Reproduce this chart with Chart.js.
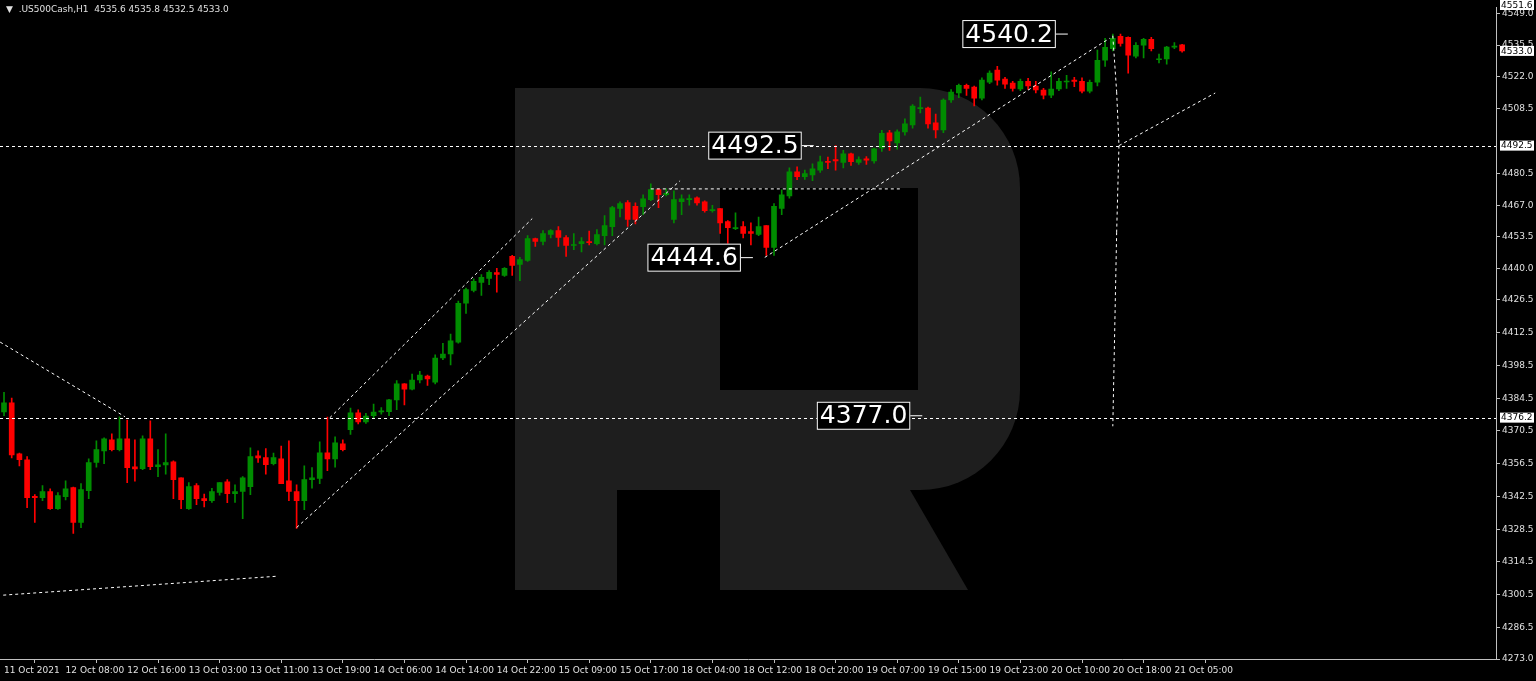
<!DOCTYPE html>
<html>
<head>
<meta charset="utf-8">
<script src="https://cdn.jsdelivr.net/npm/chart.js@4/dist/chart.umd.min.js"></script>
<style>
  html, body { margin: 0; padding: 0; background: #000; }
  #wrap { width: 1536px; height: 681px; }
</style>
</head>
<body>
<div id="wrap"><canvas id="chart" width="1536" height="681"></canvas></div>
<script>
// hourly candles, US500Cash H1
let opens = [4378.6,4382.5,4360.7,4358.2,4342.6,4342.0,4344.6,4337.3,4342.4,4346.3,4331.4,4345,4357,4362,4366.7,4362.5,4367.1,4355.2,4354.4,4367.1,4355.2,4356,4357.3,4350.5,4337.3,4347.1,4341.6,4340.7,4344.2,4348.8,4343.7,4344.6,4346.7,4359.9,4359.1,4356.5,4358.6,4349.2,4344.6,4340.7,4349.7,4350.2,4361.2,4358.6,4365,4371,4378.2,4374.4,4377,4378.6,4378.8,4383.8,4390.6,4388.4,4392.3,4394,4391.4,4401.7,4403.4,4408.5,4425.1,4430.6,4434,4435.7,4438.2,4437,4445.2,4441.7,4443.4,4452.8,4451.5,4454.5,4456.2,4453.2,4449.8,4450.6,4451.5,4450.6,4454,4457.9,4465.6,4468.1,4466.5,4466.4,4469.4,4473.7,4471.5,4460.9,4468.5,4469.4,4470.2,4468.5,4464.7,4465.6,4460,4457,4457.9,4455.7,4454.5,4458.3,4449,4465.6,4471,4481.3,4479.2,4480,4482,4485.8,4486.5,4485.3,4489,4485.3,4486.9,4486,4491.5,4498,4493.7,4498.4,4501.3,4508.3,4508.5,4502.2,4499.2,4512,4515,4518.3,4517.5,4512.8,4519.6,4524.8,4520.9,4519.2,4516.7,4520,4518,4516.2,4514.1,4516.7,4519.7,4520.5,4520,4515.8,4519.6,4529,4534,4539.2,4538.8,4530.7,4535.4,4538,4529.2,4529.6,4534.6,4535.6];
let highs = [4387,4384.6,4361,4359.5,4343.3,4347.1,4345.8,4344.2,4349.2,4346.5,4348,4358.6,4366.3,4367.6,4369.3,4376.5,4375.2,4366.7,4368.4,4374.8,4362.5,4369.3,4357.7,4350.5,4348.4,4348,4343.5,4346,4348.4,4349.7,4347.5,4351,4363.3,4362,4363,4361,4364,4366.3,4347.5,4355.6,4354.8,4365.9,4376.4,4368,4366.7,4380.3,4379.5,4378,4382,4380.5,4384,4392,4390.8,4394.8,4396,4394.4,4403,4408,4411.9,4426,4431.6,4435.5,4437.4,4439.1,4440,4440.4,4445.6,4444.7,4454,4453,4456.2,4456.6,4457.9,4454,4454.9,4453.2,4456,4456.6,4462.6,4466.5,4468.5,4469,4468,4471.5,4476.2,4474,4474,4473.2,4471.5,4471.5,4470.6,4468.9,4467,4465.6,4460.4,4463.8,4460,4459.5,4462,4458.3,4467.7,4473.6,4483,4483.4,4482,4484.7,4488,4487.6,4492.5,4490.5,4489.3,4487.7,4487.8,4491.5,4499,4499,4499.3,4504,4510,4513.3,4509,4506,4512.5,4516.5,4518.8,4518.8,4518,4521.5,4524.5,4526.4,4521.7,4520,4521,4521.3,4520,4517,4524,4521.3,4522.6,4521.7,4521.5,4520.5,4533.3,4538.4,4540.2,4540.2,4539,4536.6,4538.4,4538.8,4531.6,4535,4536.6,4535.8];
let lows = [4377,4359,4355.6,4337.7,4331.4,4340.7,4337,4337,4341,4326.7,4329.2,4341.6,4355,4356.5,4362,4362,4348.4,4349,4354,4354,4351,4352,4341.6,4337.3,4337,4339,4338,4340,4343,4339.8,4340,4333,4343.3,4357,4352,4356,4348,4340.7,4328.8,4336.9,4346,4348,4353.5,4355,4362,4369,4373.5,4373.7,4376,4377.7,4377,4379.6,4381.6,4388,4391,4390,4390.6,4401,4398.7,4408,4420.8,4430,4428.5,4433,4429.8,4436.6,4437,4434.8,4443,4449.4,4450,4453,4449.4,4445.1,4448,4447,4450,4450,4450,4454,4462,4458,4459,4463,4469,4466,4471,4459.5,4463,4467,4467,4464,4464,4455,4449.8,4456.6,4453,4450,4454,4445.6,4445.6,4463,4470,4477.9,4478,4477.5,4481,4482.6,4482,4483,4484,4484.5,4484.5,4485,4490,4490.5,4491,4497,4500,4506.5,4500,4495.8,4498,4511,4513,4514,4509.5,4512,4519,4518.3,4517,4515.8,4516,4516.5,4515,4512.5,4513,4516,4517,4517.7,4515,4515,4518,4526.4,4533,4535,4523.5,4530,4530,4533,4527.9,4527.3,4534,4532.5];
let closes = [4382.5,4360.3,4358.2,4342.0,4342.0,4344.6,4337.3,4342.9,4345.8,4331.4,4345.4,4357,4362.5,4367.1,4362.5,4367.1,4354.8,4354.3,4367.1,4355.2,4356,4357,4349.7,4341.1,4346.7,4341.6,4340.7,4344.6,4348.4,4343.7,4344.6,4350.5,4359.5,4359,4356.1,4359.1,4348,4344.6,4340.7,4349.7,4350.5,4361.2,4358.6,4365.4,4362.5,4378.2,4374.4,4376.9,4378.6,4379.1,4383.8,4390.6,4388.4,4392.3,4394.4,4392.7,4401.7,4403.4,4409,4425.1,4431,4434.5,4436.2,4438.3,4437.4,4440,4441.3,4443.8,4452.8,4451.5,4454.9,4456.2,4453.2,4449.8,4450.2,4451.5,4451,4454.5,4458.3,4466,4467.7,4460.9,4461,4469.8,4473.7,4471.5,4472.1,4469.4,4469.8,4469.8,4468,4464.7,4465.2,4459.5,4457.4,4457.4,4455,4455,4457.9,4449,4466.5,4471.5,4481.3,4479.2,4480.5,4482.6,4485.6,4485.3,4486,4489,4485.6,4486.5,4486.3,4491.1,4497.8,4494.5,4498.4,4501.8,4509.4,4508.7,4501.8,4499.2,4512,4515.4,4518.3,4517,4512.8,4520.5,4523.5,4520.5,4518.8,4517,4520,4518,4516.3,4514.1,4516.7,4520,4520,4520,4515.8,4519.6,4529,4534.5,4538.4,4536.2,4531.2,4535.4,4537.9,4534,4529.6,4534.6,4535,4533.0];

let priceTicks = [4273.0,4286.5,4300.5,4314.5,4328.5,4342.5,4356.5,4370.5,4384.5,4398.5,4412.5,4426.5,4440.0,4453.5,4467.0,4480.5,4508.5,4522.0,4535.5,4549.0];
let timeLabels = ["11 Oct 2021","12 Oct 08:00","12 Oct 16:00","13 Oct 03:00","13 Oct 11:00","13 Oct 19:00","14 Oct 06:00","14 Oct 14:00","14 Oct 22:00","15 Oct 09:00","15 Oct 17:00","18 Oct 04:00","18 Oct 12:00","18 Oct 20:00","19 Oct 07:00","19 Oct 15:00","19 Oct 23:00","20 Oct 10:00","20 Oct 18:00","21 Oct 05:00"];
let labelStep = 8;

// markup: [i1, p1, i2, p2]
let trendLines = [
  [-0.5, 4408.5, 15.7, 4376.6],
  [-0.1, 4300.3, 35.5, 4308.4],
  [42.3, 4376.1, 68.6, 4461.3],
  [38.0, 4329.2, 87.8, 4477.5],
  [84.0, 4474.0, 116.5, 4474.0],
  [98.8, 4444.7, 143.6, 4538.4],
  [144.0, 4539.5, 144.5, 4515.5],
  [144.5, 4515.5, 144.8, 4492.5],
  [144.8, 4492.5, 144.5, 4455.5],
  [144.5, 4455.5, 144.0, 4372.5],
  [144.8, 4492.5, 157.3, 4515.0]
];
let levelLines = [4492.5, 4376.2];
let levelBoxes = [[136.6, 4540.2], [103.6, 4492.5], [95.7, 4444.6], [117.7, 4377.0]];

const green = '#008c00', red = '#ff0000';
const candleColor = (c) => closes[c.dataIndex] >= opens[c.dataIndex] ? green : red;
const idx = opens.map((_, i) => i);

const decor = {
  id: 'decor',
  beforeDatasetsDraw(chart) {
    const ctx = chart.ctx;
    ctx.save();
    ctx.fillStyle = '#1e1e1e';
    ctx.fillRect(515, 88, 102, 502);
    ctx.beginPath();
    ctx.moveTo(617, 88); ctx.lineTo(920, 88);
    ctx.arcTo(1020, 88, 1020, 188, 100);
    ctx.lineTo(1020, 390);
    ctx.arcTo(1020, 490, 920, 490, 100);
    ctx.lineTo(617, 490); ctx.closePath(); ctx.fill();
    ctx.fillStyle = '#000';
    ctx.fillRect(720, 188, 198, 202);
    ctx.fillStyle = '#1e1e1e';
    ctx.beginPath();
    ctx.moveTo(720, 490); ctx.lineTo(910, 490); ctx.lineTo(968, 590); ctx.lineTo(720, 590);
    ctx.closePath(); ctx.fill();
    ctx.restore();
  },
  afterDatasetsDraw(chart) {
    const ctx = chart.ctx, xs = chart.scales.x, ys = chart.scales.y, a = chart.chartArea;
    ctx.save();
    ctx.strokeStyle = '#ffffff';
    ctx.lineWidth = 1;
    ctx.setLineDash([3, 3]);
    levelLines.forEach(p => {
      const y = Math.round(ys.getPixelForValue(p)) + 0.5;
      ctx.beginPath(); ctx.moveTo(a.left, y); ctx.lineTo(a.right, y); ctx.stroke();
    });
    trendLines.forEach(l => {
      ctx.beginPath();
      ctx.moveTo(xs.getPixelForValue(l[0]), ys.getPixelForValue(l[1]));
      ctx.lineTo(xs.getPixelForValue(l[2]), ys.getPixelForValue(l[3]));
      ctx.stroke();
    });
    ctx.setLineDash([]);
    ctx.font = '25px "DejaVu Sans"';
    ctx.textBaseline = 'middle';
    levelBoxes.forEach(b => {
      const r = xs.getPixelForValue(b[0]), y = ys.getPixelForValue(b[1]);
      const t = b[1].toFixed(1), w = ctx.measureText(t).width + 6;
      ctx.fillStyle = '#000';
      ctx.fillRect(r - w, y - 14, w, 28);
      ctx.strokeStyle = '#fff';
      ctx.strokeRect(r - w + 0.5, y - 13.5, w - 1, 27);
      ctx.fillStyle = '#fff';
      ctx.textAlign = 'left';
      ctx.fillText(t, r - w + 3, y + 1);
      ctx.beginPath(); ctx.moveTo(r, y); ctx.lineTo(r + 12, y); ctx.stroke();
    });
    // header
    ctx.font = '9px "DejaVu Sans"';
    ctx.fillStyle = '#e0e0e0';
    ctx.textBaseline = 'middle';
    ctx.fillText('\u25BC  .US500Cash,H1  4535.6 4535.8 4532.5 4533.0', 6, 10);
    // highlighted price labels on the axis
    [[4551.6, 5], [4533.0, null], [4492.5, null], [4376.2, null]].forEach(([p, fy]) => {
      const y = fy || ys.getPixelForValue(p);
      ctx.fillStyle = '#fff';
      ctx.fillRect(a.right + 4, y - 5, 34, 10);
      ctx.fillStyle = '#000';
      ctx.fillText(p.toFixed(1), a.right + 5, y + 0.5);
    });
    ctx.restore();
  }
};

new Chart(document.getElementById('chart'), {
  type: 'bar',
  data: {
    datasets: [
      {
        data: idx.map(i => ({x: i, y: [lows[i], highs[i]]})),
        backgroundColor: candleColor, barThickness: 1, grouped: false, order: 2
      },
      {
        data: idx.map(i => ({x: i, y: [opens[i], closes[i]]})),
        backgroundColor: candleColor, barThickness: 5, minBarLength: 1, grouped: false, order: 1
      }
    ]
  },
  options: {
    responsive: false,
    animation: false,
    layout: {padding: {top: 4, left: 0, right: 0, bottom: 0}},
    plugins: {legend: {display: false}, tooltip: {enabled: false}},
    scales: {
      x: {
        type: 'linear', offset: false,
        min: -0.52, max: -0.52 + 1496 / 7.7,
        afterBuildTicks: s => { s.ticks = timeLabels.map((_, k) => ({value: k * labelStep})); },
        afterFit: s => { s.height = 22; },
        ticks: {
          autoSkip: false, maxRotation: 0, align: 'start', padding: 2,
          color: '#e0e0e0', font: {family: 'DejaVu Sans', size: 9},
          callback: v => timeLabels[v / labelStep]
        },
        grid: {display: true, drawOnChartArea: false, color: '#c0c0c0', tickLength: 4},
        border: {color: '#c0c0c0'}
      },
      y: {
        position: 'right',
        min: 4273.0, max: 4551.6,
        afterBuildTicks: s => { s.ticks = priceTicks.map(v => ({value: v})); },
        afterFit: s => { s.width = 40; },
        ticks: {
          padding: 2, color: '#e0e0e0', font: {family: 'DejaVu Sans', size: 9},
          callback: v => v.toFixed(1)
        },
        grid: {display: true, drawOnChartArea: false, color: '#c0c0c0', tickLength: 4},
        border: {color: '#c0c0c0'}
      }
    }
  },
  plugins: [decor]
});
</script>
</body>
</html>
